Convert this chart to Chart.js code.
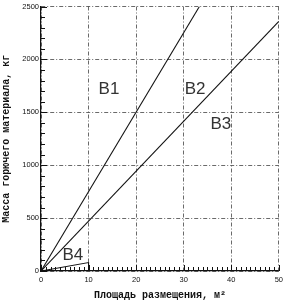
<!DOCTYPE html>
<html>
<head>
<meta charset="utf-8">
<script src="https://cdn.jsdelivr.net/npm/chart.js@4/dist/chart.umd.min.js"></script>
<style>
  html, body { margin: 0; padding: 0; background: #fff; }
  #wrap { width: 287px; height: 301px; position: relative; }
</style>
</head>
<body>
<div id="wrap"><canvas id="chart"></canvas></div>
<script>
// line B1
var b1Area = [0, 33.3];
var b1Mass = [0, 2500];
// line B2 (B3 label sits under it)
var b2Area = [0, 50];
var b2Mass = [0, 2360];
// small triangle B4
var b4Area = [0, 10, 10];
var b4Mass = [0, 80, 0];

var xTicks = [0, 10, 20, 30, 40, 50];
var yTicks = [0, 500, 1000, 1500, 2000, 2500];

var labelText = ['B1', 'B2', 'B3', 'B4'];
var labelArea = [14.3, 32.4, 37.8, 6.7];
var labelMass = [1715, 1715, 1390, 150];

function toPoints(xs, ys) {
    var pts = [];
    for (var i = 0; i < xs.length; i++) {
        pts.push({x: xs[i], y: ys[i]});
    }
    return pts;
}

function lineSet(xs, ys) {
    return {
        data: toPoints(xs, ys),
        borderColor: '#111',
        borderWidth: 1.1,
        pointRadius: 0,
        showLine: true,
        fill: false,
        tension: 0
    };
}

// minor ticks on the inside of the axes + the B labels
var extras = {
    id: 'extras',
    afterDatasetsDraw: function(chart) {
        var ctx = chart.ctx, xs = chart.scales.x, ys = chart.scales.y;
        var a = chart.chartArea;
        ctx.save();
        ctx.strokeStyle = '#111';
        ctx.lineWidth = 1;
        ctx.beginPath();
        for (var v = 0; v <= 50; v++) {
            var px = Math.round(xs.getPixelForValue(v)) + 0.5;
            var len = (v % 10 === 0) ? 6 : 4;
            ctx.moveTo(px, a.bottom);
            ctx.lineTo(px, a.bottom - len);
        }
        for (var m = 0; m <= 2500; m += 100) {
            var py = Math.round(ys.getPixelForValue(m)) + 0.5;
            var l2 = (m % 500 === 0) ? 6 : 4;
            ctx.moveTo(a.left, py);
            ctx.lineTo(a.left + l2, py);
        }
        ctx.stroke();

        ctx.fillStyle = '#333';
        ctx.font = '17px "Liberation Sans", Arial, sans-serif';
        ctx.textAlign = 'center';
        ctx.textBaseline = 'middle';
        for (var i = 0; i < labelText.length; i++) {
            ctx.fillText(labelText[i], xs.getPixelForValue(labelArea[i]), ys.getPixelForValue(labelMass[i]));
        }
        ctx.restore();
    }
};

function plainTick(v) { return String(v); }

var chart = new Chart(document.getElementById('chart'), {
    type: 'scatter',
    data: {
        datasets: [lineSet(b1Area, b1Mass), lineSet(b2Area, b2Mass), lineSet(b4Area, b4Mass)]
    },
    options: {
        responsive: true,
        maintainAspectRatio: false,
        animation: false,
        layout: { padding: { top: 5, right: 8, left: 0, bottom: 0 } },
        plugins: { legend: { display: false }, tooltip: { enabled: false } },
        scales: {
            x: {
                type: 'linear',
                min: 0, max: 50,
                afterBuildTicks: function(s) { s.ticks = xTicks.map(function(v) { return {value: v}; }); },
                afterFit: function(s) { s.height = 30; },
                border: { display: true, color: '#111', width: 1.2, dash: [4, 2, 1, 2] },
                grid: { color: '#444', lineWidth: 0.8, drawTicks: false },
                ticks: {
                    color: '#111', padding: 4, maxRotation: 0, callback: plainTick,
                    font: { family: '"Liberation Sans", Arial, sans-serif', size: 7.5 }
                },
                title: {
                    display: true,
                    text: 'Площадь размещения, м²',
                    color: '#111',
                    padding: { top: 2, bottom: 0 },
                    font: { family: '"Liberation Mono", "DejaVu Sans Mono", monospace', size: 10, weight: 'bold' }
                }
            },
            y: {
                type: 'linear',
                min: 0, max: 2500,
                afterBuildTicks: function(s) { s.ticks = yTicks.map(function(v) { return {value: v}; }); },
                afterFit: function(s) { s.width = 41; },
                border: { display: true, color: '#111', width: 1.2, dash: [4, 2, 1, 2] },
                grid: { color: '#444', lineWidth: 0.8, drawTicks: false },
                ticks: {
                    color: '#111', padding: 2, callback: plainTick,
                    font: { family: '"Liberation Sans", Arial, sans-serif', size: 7.5 }
                },
                title: {
                    display: true,
                    text: 'Масса горючего материала, кг',
                    color: '#111',
                    padding: { top: 0, bottom: 2 },
                    font: { family: '"Liberation Mono", "DejaVu Sans Mono", monospace', size: 10, weight: 'bold' }
                }
            }
        }
    },
    plugins: [extras]
});
</script>
</body>
</html>
